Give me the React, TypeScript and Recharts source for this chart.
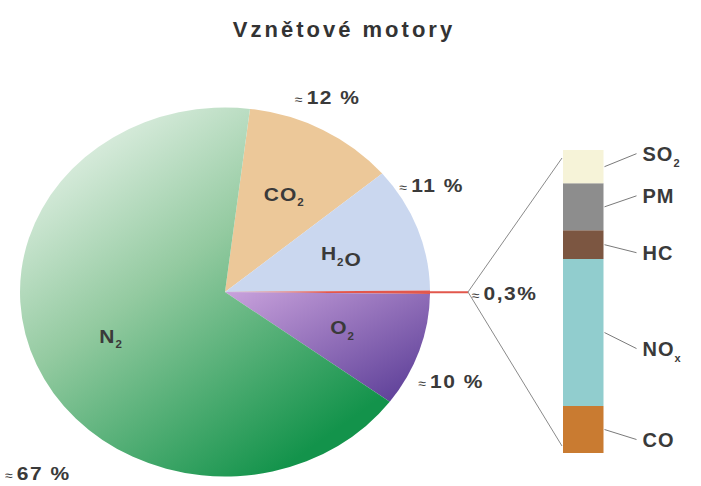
import { PieChart, Pie, Cell, BarChart, Bar, XAxis, YAxis } from "recharts";

// exhaust composition (pie), clockwise from the top
const pieNames = ["CO_2", "H_2O", "ostatní", "O_2", "N_2"];
const pieValues = [12, 11, 0.3, 10, 67];
const pieLabels = ["12 %", "11 %", "0,3%", "10 %", "67 %"];

// the 0,3 % split up, bottom to top
const emissionNames = ["CO", "NO_x", "HC", "PM", "SO_2"];
const emissionValues = [15.5, 48.5, 9.5, 15.5, 11];

const pieFills = ["#ecc899", "#cad7ef", "#e2574c", "url(#o2Grad)", "url(#n2Grad)"];
const barFills = ["#c97b31", "#91cdce", "#7c5641", "#8d8d8d", "#f6f3d8"];

const W = 701;
const H = 486;
const CX = 225;
const CY = 292;
const R = 205;
const SY = 0.9; // the original pie is drawn a little flattened
const PIE_H = 560; // pie svg is taller, it gets squeezed by SY
const START = 83;
const FONT = "'Liberation Sans', Arial, sans-serif";
const INK = "#3a3a3a";

const BAR_LEFT = 561;
const BAR_W = 45;
const BAR_TOP = 150;
const BAR_BOTTOM = 453;
const RED_LEN = 38;

// where the outer percentage labels sit on screen (deg, radius from centre)
const outerPolar = [
  { a: 62, r: 219 },
  { a: 27, r: 232 },
  null,
  { a: -22, r: 244 },
  { a: -136, r: 264 },
];
const emissionLabelDy = [10, 16, 8, -11, -13];

const RAD = Math.PI / 180;

const pieData = pieNames.map((name, i) => ({ name, value: pieValues[i] }));
const barData = [
  Object.fromEntries([["cat", "emise"], ...emissionNames.map((n, i) => [n, emissionValues[i]])]),
];

function Chem(props: { text: string; x: number; y: number; size: number; anchor?: string }) {
  const { text, x, y, size } = props;
  const parts: any[] = [];
  let sub = false;
  let k = 0;
  for (let i = 0; i < text.length; i++) {
    const ch = text[i];
    if (ch === "_") {
      sub = true;
      continue;
    }
    if (sub) {
      parts.push(
        <tspan key={k++} dy={size * 0.3} fontSize={size * 0.55}>
          {ch}
        </tspan>
      );
      sub = false;
      if (i < text.length - 1) {
        parts.push(
          <tspan key={k++} dy={-size * 0.3}>
            {""}
          </tspan>
        );
      }
    } else {
      parts.push(<tspan key={k++}>{ch}</tspan>);
    }
  }
  return (
    <text
      x={x}
      y={y}
      dy="0.35em"
      textAnchor={props.anchor || "middle"}
      fontSize={size}
      fontWeight="bold"
      fontFamily={FONT}
      fill={INK}
      letterSpacing={1}
    >
      {parts}
    </text>
  );
}

function Approx(props: { x: number; y: number; text: string; anchor?: string }) {
  return (
    <text
      x={props.x}
      y={props.y}
      dy="0.35em"
      textAnchor={props.anchor || "middle"}
      fontFamily={FONT}
      fill={INK}
    >
      <tspan fontSize={14}>≈ </tspan>
      <tspan fontSize={21} fontWeight="bold" letterSpacing={1.5}>
        {props.text}
      </tspan>
    </text>
  );
}

function renderPieLabel(props: any) {
  const { cx, cy, midAngle, outerRadius, index } = props;
  if (index === 2) {
    const x0 = cx + outerRadius * Math.cos(-midAngle * RAD);
    const y0 = cy + outerRadius * Math.sin(-midAngle * RAD);
    return (
      <g>
        <line x1={x0 - 2} y1={y0} x2={x0 + RED_LEN} y2={y0} stroke="#e2574c" strokeWidth={2.2} />
        <Approx x={x0 + RED_LEN + 4} y={y0 + 3} text={pieLabels[index]} anchor="start" />
      </g>
    );
  }
  const ir = 124;
  const ix = cx + ir * Math.cos(-midAngle * RAD);
  const iy = cy + ir * Math.sin(-midAngle * RAD);
  const op = outerPolar[index]!;
  const ox = cx + op.r * Math.cos(op.a * RAD);
  // screen position -> position before the vertical flattening
  const oy = cy - (op.r * Math.sin(op.a * RAD)) / SY;
  return (
    <g>
      <Chem text={pieNames[index]} x={ix} y={iy} size={21} />
      <Approx x={Math.max(ox, 38)} y={oy} text={pieLabels[index]} />
    </g>
  );
}

function emissionLabel(i: number) {
  return (p: any) => {
    const x = Number(p.x) + Number(p.width);
    const mid = Number(p.y) + Number(p.height) / 2;
    const ty = mid + emissionLabelDy[i];
    return (
      <g>
        <line x1={x + 1} y1={mid} x2={x + 33} y2={ty} stroke="#7a7a7a" strokeWidth={1} />
        <Chem text={emissionNames[i]} x={x + 39} y={ty} size={20} anchor="start" />
      </g>
    );
  };
}

export default function App() {
  const jx = CX + R + RED_LEN;
  return (
    <div
      style={{
        position: "absolute",
        left: 0,
        top: 0,
        width: W,
        height: H,
        background: "#fff",
        overflow: "hidden",
      }}
    >
      <div
        style={{
          position: "absolute",
          left: 0,
          top: 0,
          transform: `scaleY(${SY})`,
          transformOrigin: `0px ${CY}px`,
        }}
      >
        <PieChart width={W} height={PIE_H} margin={{ top: 0, right: 0, bottom: 0, left: 0 }}>
          <defs>
            <linearGradient id="n2Grad" x1="0.1" y1="0.05" x2="0.75" y2="0.95">
              <stop offset="0%" stopColor="#e8f3ea" />
              <stop offset="45%" stopColor="#93caa0" />
              <stop offset="100%" stopColor="#13934b" />
            </linearGradient>
            <linearGradient id="o2Grad" x1="0" y1="0" x2="1" y2="1">
              <stop offset="0%" stopColor="#c9a2dc" />
              <stop offset="100%" stopColor="#553893" />
            </linearGradient>
          </defs>
          <Pie
            data={pieData}
            dataKey="value"
            nameKey="name"
            cx={CX}
            cy={CY}
            outerRadius={R}
            startAngle={START}
            endAngle={START - 360}
            stroke="none"
            label={renderPieLabel}
            labelLine={false}
            isAnimationActive={false}
          >
            {pieData.map((d, i) => (
              <Cell key={d.name} fill={pieFills[i]} />
            ))}
          </Pie>
        </PieChart>
      </div>
      <div style={{ position: "absolute", left: 0, top: 0 }}>
        <BarChart
          width={W}
          height={H}
          data={barData}
          margin={{ top: BAR_TOP, right: W - BAR_LEFT - BAR_W, bottom: H - BAR_BOTTOM, left: BAR_LEFT }}
          barCategoryGap={0}
        >
          <text
            x={344}
            y={37}
            textAnchor="middle"
            fontSize={22}
            fontWeight="bold"
            fontFamily={FONT}
            fill="#333"
            letterSpacing={3}
          >
            Vznětové motory
          </text>
          <line x1={jx} y1={CY} x2={BAR_LEFT + 1} y2={BAR_TOP + 8} stroke="#8a8a8a" strokeWidth={1} />
          <line x1={jx} y1={CY} x2={BAR_LEFT + 1} y2={BAR_BOTTOM - 7} stroke="#8a8a8a" strokeWidth={1} />
          <XAxis dataKey="cat" hide />
          <YAxis hide domain={[0, 100]} />
          {emissionNames.map((n, i) => (
            <Bar
              key={n}
              dataKey={n}
              stackId="e"
              fill={barFills[i]}
              barSize={BAR_W}
              label={emissionLabel(i)}
              isAnimationActive={false}
            />
          ))}
        </BarChart>
      </div>
    </div>
  );
}
